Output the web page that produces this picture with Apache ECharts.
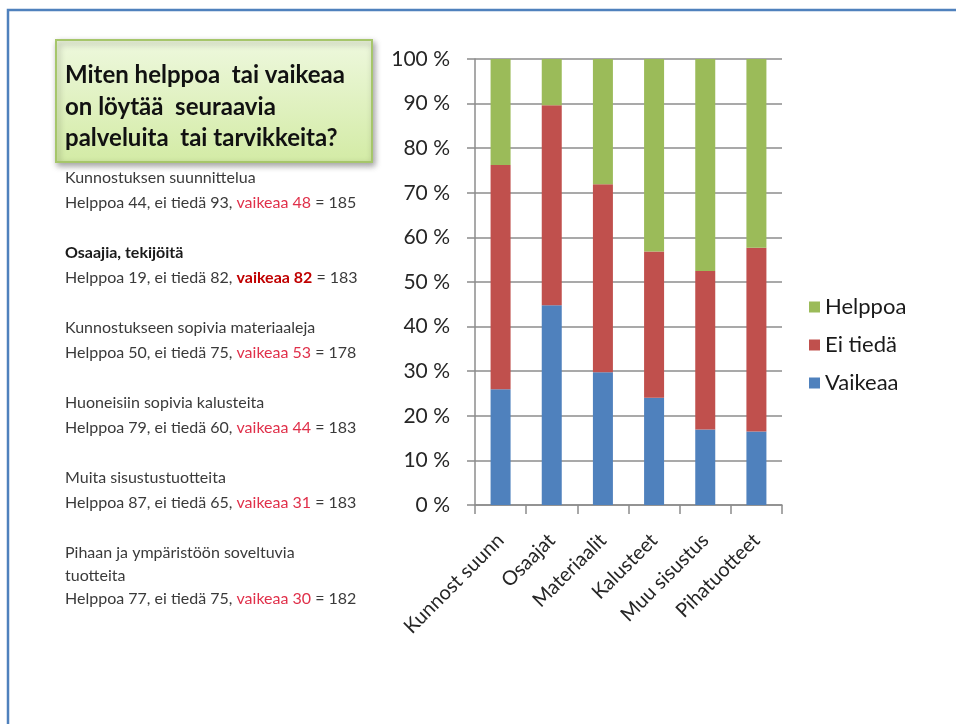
<!DOCTYPE html>
<html>
<head>
<meta charset="utf-8">
<script src="https://cdn.jsdelivr.net/npm/echarts@6/dist/echarts.min.js"></script>
<style>
  html, body { margin: 0; padding: 0; background: #fff; }
  #chart { width: 956px; height: 724px; }
</style>
</head>
<body>
<div id="chart"></div>
<script>
const categories = ['Kunnost suunn', 'Osaajat', 'Materiaalit', 'Kalusteet', 'Muu sisustus', 'Pihatuotteet']
const helppoa = [44, 19, 50, 79, 87, 77]
const eiTieda = [93, 82, 75, 60, 65, 75]
const vaikeaa = [48, 82, 53, 44, 31, 30]
const itemNames = [
  'Kunnostuksen suunnittelua',
  'Osaajia, tekijöitä',
  'Kunnostukseen sopivia materiaaleja',
  'Huoneisiin sopivia kalusteita',
  'Muita sisustustuotteita',
  'Pihaan ja ympäristöön soveltuvia\ntuotteita'
]
const boldItem = 1
const question = 'Miten helppoa  tai vaikeaa\non löytää  seuraavia\npalveluita  tai tarvikkeita?'

const font = 'Lato, "Open Sans", sans-serif'
const colors = { helppoa: '#9bbb59', ei: '#c0504d', vaikeaa: '#4f81bd' }

// osuudet prosentteina (100 % pinottu)
const totals = categories.map((c, i) => helppoa[i] + eiTieda[i] + vaikeaa[i])
const pct = arr => arr.map((v, i) => v / totals[i] * 100)

// vasemman reunan tekstit
const fs = 16
const textBlocks = itemNames.map((name, i) => {
  const b = i === boldItem
  const lh = i === 5 ? 23 : 25
  const nameLines = name.split('\n').map(l => `{${b ? 'nb' : 'n'}|${l}}`).join('\n')
  const line = `{n|Helppoa ${helppoa[i]}, ei tiedä ${eiTieda[i]}, }` +
    `{${b ? 'rb' : 'r'}|vaikeaa ${vaikeaa[i]}}{n| = ${totals[i]}}`
  return {
    type: 'text',
    left: 65,
    top: 170 + 75 * i,
    style: {
      text: nameLines + '\n' + line,
      font: fs + 'px ' + font,
      rich: {
        n: { fontFamily: font, fontSize: fs, fill: '#3a3a3a', lineHeight: lh },
        nb: { fontFamily: font, fontSize: fs, fontWeight: 'bold', fill: '#1a1a1a', lineHeight: lh },
        r: { fontFamily: font, fontSize: fs, fill: '#e0304a', lineHeight: lh },
        rb: { fontFamily: font, fontSize: fs, fontWeight: 'bold', fill: '#c00000', lineHeight: lh }
      }
    }
  }
})

const chart = echarts.init(document.getElementById('chart'))

chart.setOption({
  backgroundColor: '#fff',
  animation: false,
  textStyle: { fontFamily: font },
  grid: { left: 475, right: 174, top: 59, bottom: 219, containLabel: false },
  legend: {
    orient: 'vertical',
    left: 804,
    top: 291,
    itemWidth: 11,
    itemHeight: 11,
    itemGap: 16,
    icon: 'rect',
    data: ['Helppoa', 'Ei tiedä', 'Vaikeaa'],
    textStyle: { fontFamily: font, fontSize: 22, color: '#1a1a1a' }
  },
  xAxis: {
    type: 'category',
    data: categories,
    axisLine: { lineStyle: { color: '#8c8c8c', width: 1.5 } },
    axisTick: { show: true, length: 9, lineStyle: { color: '#8c8c8c', width: 1.5 } },
    axisLabel: { rotate: 45, fontSize: 20, color: '#262626', margin: 32, fontFamily: font }
  },
  yAxis: {
    type: 'value',
    min: 0,
    max: 100,
    interval: 10,
    axisLine: { show: true, lineStyle: { color: '#8c8c8c', width: 1.5 } },
    axisTick: { show: true, length: 8, lineStyle: { color: '#8c8c8c', width: 1.5 } },
    splitLine: { lineStyle: { color: '#8c8c8c', width: 1.5 } },
    axisLabel: { formatter: '{value} %', fontSize: 21, color: '#262626', margin: 25, fontFamily: font }
  },
  series: [
    { name: 'Vaikeaa', type: 'bar', stack: 'a', data: pct(vaikeaa), barWidth: 20, itemStyle: { color: colors.vaikeaa } },
    { name: 'Ei tiedä', type: 'bar', stack: 'a', data: pct(eiTieda), barWidth: 20, itemStyle: { color: colors.ei } },
    { name: 'Helppoa', type: 'bar', stack: 'a', data: pct(helppoa), barWidth: 20, itemStyle: { color: colors.helppoa } }
  ],
  graphic: [
    {
      type: 'polyline',
      shape: { points: [[8, 730], [8, 10], [960, 10]] },
      style: { stroke: '#4f81bd', lineWidth: 2.5, fill: null }
    },
    {
      type: 'rect',
      shape: { x: 56, y: 40, width: 316, height: 122 },
      style: {
        fill: new echarts.graphic.LinearGradient(0, 0, 0, 1, [
          { offset: 0, color: '#eef8de' },
          { offset: 1, color: '#d3eba5' }
        ]),
        stroke: '#a6c66b',
        lineWidth: 2,
        shadowBlur: 6,
        shadowOffsetX: 2,
        shadowOffsetY: 3,
        shadowColor: 'rgba(0,0,0,0.35)'
      }
    },
    {
      type: 'text',
      left: 65,
      top: 60,
      style: {
        text: question,
        font: 'bold 24px ' + font,
        fill: '#111',
        lineHeight: 31.5
      }
    },
    ...textBlocks
  ]
})
</script>
</body>
</html>
